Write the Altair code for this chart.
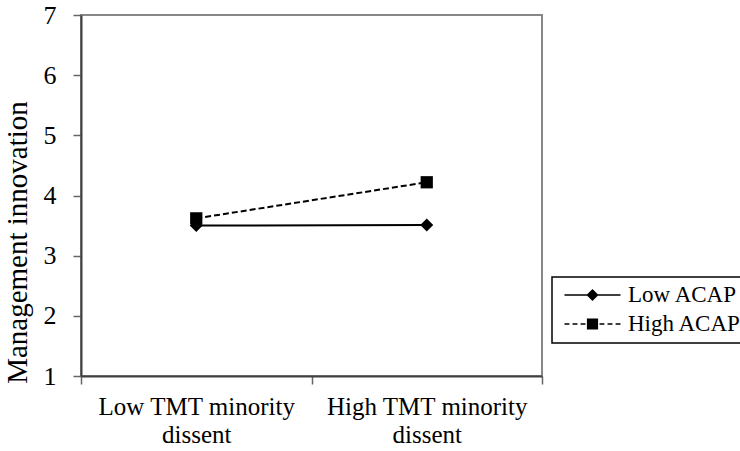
import altair as alt
import pandas as pd

categories = ["Low TMT minority dissent", "High TMT minority dissent"]
series = ["Low ACAP", "High ACAP"]
low_acap = [3.50, 3.51]
high_acap = [3.62, 4.22]
y_ticks = [1, 2, 3, 4, 5, 6, 7]

rows = []
for s, vals in zip(series, [low_acap, high_acap]):
    for c, v in zip(categories, vals):
        rows.append({"dissent": c, "series": s, "value": v})
df = pd.DataFrame(rows)

FONT = "Liberation Serif"

# legend symbols: line + marker drawn as filled custom paths (unit = sqrt(size)/2 = 7 px)
h = 0.11  # half line thickness
path_low = (f"M-4,-{h}H4V{h}H-4Z"
            "M-0.86,0L0,-0.86L0.86,0L0,0.86Z")
dashes = [(-4, -3.3), (-2.85, -2.15), (-1.7, -1.0), (1.0, 1.7), (2.15, 2.85), (3.3, 4)]
path_high = "".join(f"M{a},-{h}H{b}V{h}H{a}Z" for a, b in dashes) + "M-0.8,-0.8H0.8V0.8H-0.8Z"

x = alt.X(
    "dissent:N",
    sort=categories,
    scale=alt.Scale(domain=categories, paddingInner=0, paddingOuter=0),
    axis=alt.Axis(
        title=None,
        labelAngle=0,
        tickBand="extent",
        labelFont=FONT,
        labelFontSize=25,
        labelColor="black",
        labelLineHeight=28,
        labelPadding=10,
        labelLimit=0,
        labelExpr="[slice(datum.label, 0, lastindexof(datum.label, ' ')), slice(datum.label, lastindexof(datum.label, ' ') + 1)]",
    ),
)
y = alt.Y(
    "value:Q",
    scale=alt.Scale(domain=[1, 7], nice=False, zero=False),
    axis=alt.Axis(
        values=y_ticks,
        title="Management innovation",
        titleFont=FONT,
        titleFontSize=29,
        titleFontWeight="normal",
        titleColor="black",
        titlePadding=11,
        titleY=227,
        labelFont=FONT,
        labelFontSize=26,
        labelColor="black",
        labelPadding=17,
        grid=False,
    ),
)

base = alt.Chart(df)

line_low = base.transform_filter(alt.datum.series == "Low ACAP").mark_line(
    color="black", strokeWidth=2
).encode(x=x, y=y)
line_high = base.transform_filter(alt.datum.series == "High ACAP").mark_line(
    color="black", strokeWidth=2, strokeDash=[6, 3]
).encode(x=x, y=y)
pt_low = base.transform_filter(alt.datum.series == "Low ACAP").mark_point(
    shape="diamond", filled=True, color="black", size=170, opacity=1
).encode(x=x, y=y)
pt_high = base.transform_filter(alt.datum.series == "High ACAP").mark_point(
    shape="square", filled=True, color="black", size=150, opacity=1
).encode(x=x, y=y)

legend_layer = base.transform_filter("false").mark_point(
    filled=True, color="black", opacity=1, strokeWidth=0
).encode(
    x=x,
    y=y,
    shape=alt.Shape(
        "series:N",
        scale=alt.Scale(domain=series, range=[path_low, path_high]),
        legend=alt.Legend(
            title=None,
            orient="none",
            legendX=471,
            legendY=262,
            labelFont=FONT,
            labelFontSize=23,
            labelColor="black",
            symbolSize=196,
            symbolStrokeWidth=0,
            symbolFillColor="black",
            padding=6.5,
            strokeColor="black",
            rowPadding=5,
            symbolOffset=22.5,
            labelOffset=24,
            labelLimit=0,
        ),
    ),
)

chart = (
    alt.layer(line_low, line_high, pt_low, pt_high, legend_layer)
    .properties(
        width=461,
        height=361,
        autosize=alt.AutoSizeParams(type="none"),
        padding={"left": 81, "top": 15, "right": 198, "bottom": 75},
        background="white",
    )
    .configure_view(stroke="#888888", strokeWidth=2)
    .configure_axis(
        domainColor="#404040",
        domainWidth=2,
        tickColor="#666666",
        tickSize=8,
        tickWidth=1.5,
    )
    .configure_legend(strokeWidth=1.5)
)

chart.save("out.html", embed_options={"renderer": "svg", "actions": False})
